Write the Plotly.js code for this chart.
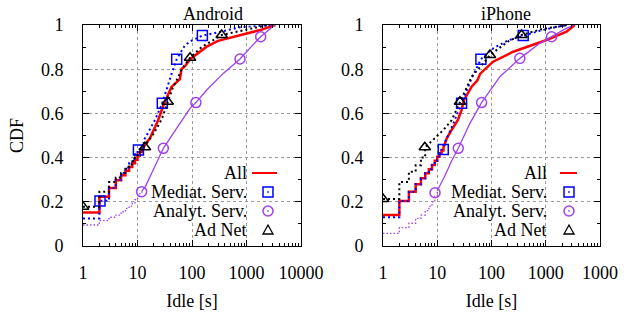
<!DOCTYPE html>
<html><head><meta charset="utf-8">
<script src="https://cdn.plot.ly/plotly-3.0.1.min.js"></script>
<style>html,body{margin:0;padding:0;background:#fff}#chart{width:629px;height:314px}</style>
</head><body><div id="chart"></div>
<script>
// ---------- data ----------
const idleSec = [1,2,3,4,5,6,7,8,9,10,11,12,13];
const xTickVals = [1,10,100,1000,10000];
const xTickTextLeft = ['1','10','100','1000','10000'];
const xTickTextRight = ['1','10','100','1000','1000'];
const yTickVals = [0,0.2,0.4,0.6,0.8,1];
const yTickText = ['0','0.2','0.4','0.6','0.8','1'];
const seriesNames = ['All','Mediat. Serv.','Analyt. Serv.','Ad Net'];
const panelTitles = ['Android','iPhone'];

// Android
const andAllStepY = [0.152,0.223,0.262,0.298,0.32,0.34,0.358,0.374,0.39,0.41,0.425,0.44,0.452];
const andAllX = [16.9,24,30,42,52,60,64,75,92,130,186,300,573,1000,1770,3400];
const andAllY = [0.487,0.57,0.638,0.72,0.74,0.755,0.8,0.815,0.845,0.875,0.902,0.928,0.947,0.962,0.977,1.0];

const andMedStepY = [0.125,0.205,0.262,0.30,0.33,0.355,0.375,0.395,0.415,0.435,0.45,0.465,0.478];
const andMedX = [13.7,20.9,28.5,42.4,52.4,74.5,100,155,246,760,2040,3000];
const andMedY = [0.487,0.57,0.646,0.781,0.845,0.909,0.93,0.952,0.962,0.99,0.997,1.0];
const andMedMarkX = [2.05,10.4,28.5,52.4,155];
const andMedMarkY = [0.204,0.434,0.646,0.845,0.952];

const andAnaStepY = [0.095,0.115,0.13,0.14,0.155,0.17,0.18,0.195,0.21,0.225,0.237,0.248];
const andAnaX = [14,18.2,24,29.8,60,92,118,186,375,760,1200,1820,3300];
const andAnaY = [0.27,0.329,0.39,0.442,0.555,0.623,0.649,0.706,0.781,0.846,0.9,0.947,1.0];
const andAnaMarkX = [11.9,29.8,118,760,1820];
const andAnaMarkY = [0.246,0.442,0.649,0.846,0.947];

const andAdStepY = [0.178,0.245,0.29,0.31,0.33,0.35,0.37,0.385,0.40,0.415,0.425,0.437,0.447];
const andAdX = [20,28,35.8,45,55,65,92,150,351,1000,2500];
const andAdY = [0.51,0.575,0.653,0.72,0.76,0.8,0.852,0.9,0.955,0.98,1.0];
const andAdMarkX = [1,13.7,35.8,92,351];
const andAdMarkY = [0.178,0.447,0.653,0.852,0.955];

// iPhone
const iphAllStepY = [0.14,0.204,0.246,0.279,0.306,0.329,0.347,0.367,0.386,0.404,0.418,0.432,0.445];
const iphAllX = [15,18.4,24,28,31,43,55,62,87,107,251,1035,2415,3430];
const iphAllY = [0.487,0.525,0.57,0.615,0.66,0.721,0.75,0.78,0.811,0.834,0.879,0.932,0.97,1.0];

const iphMedStepY = [0.13,0.204,0.246,0.279,0.306,0.329,0.347,0.367,0.386,0.404,0.42,0.437];
const iphMedX = [18,28.1,43,63.8,100,200,384,800,1500,2500];
const iphMedY = [0.53,0.646,0.759,0.845,0.89,0.93,0.952,0.975,0.99,1.0];
const iphMedMarkX = [12.9,28.1,63.8,384];
const iphMedMarkY = [0.437,0.646,0.845,0.952];

const iphAnaStepY = [0.057,0.083,0.103,0.125,0.14,0.16,0.18,0.20,0.225,0.25];
const iphAnaX = [14,18,24.4,40,65.6,143,200,333,778,1280,2200,3300];
const iphAnaY = [0.32,0.38,0.442,0.555,0.649,0.766,0.80,0.849,0.917,0.947,0.98,1.0];
const iphAnaMarkX = [9.1,24.4,65.6,333,1280];
const iphAnaMarkY = [0.241,0.442,0.649,0.849,0.947];

const iphAdStepY = [0.213,0.29,0.336,0.365,0.40,0.447];
const iphAdX = [9.1,13,18.5,26.2,43,75,93.5,200,358,800,2500];
const iphAdY = [0.487,0.525,0.57,0.653,0.766,0.834,0.864,0.925,0.955,0.98,1.0];
const iphAdMarkX = [1,5.9,26.2,93.5,358];
const iphAdMarkY = [0.213,0.447,0.653,0.864,0.955];

// ---------- build ----------
function steps(stepY){
  const X=[],Y=[];
  for(let i=0;i<stepY.length;i++){
    X.push(idleSec[i]); Y.push(stepY[i]);
    if(i+1<stepY.length){X.push(idleSec[i+1]); Y.push(stepY[i]);}
  }
  return {x:X, y:Y};
}
const FONT='Liberation Serif, Times New Roman, serif';
const RED='#ff0000', BLUE='#0000ff', PURP='#a040f0', BLK='#000000';
const styles = [
  {color:RED, width:2.5, dash:'solid', stepDash:'solid'},
  {color:BLUE, width:2, dash:'2px,3px', stepDash:'2px,3px'},
  {color:PURP, width:1.3, dash:'solid', stepDash:'1.5px,2px'},
  {color:BLK, width:2, dash:'2px,3px', stepDash:'2px,3px'}
];
const symbols=[null,'square-open','circle-open','triangle-up-open'];

const panels = [
  {xa:'x', ya:'y', lines:[[andAllStepY,andAllX,andAllY],[andMedStepY,andMedX,andMedY],[andAnaStepY,andAnaX,andAnaY],[andAdStepY,andAdX,andAdY]],
   marks:[null,[andMedMarkX,andMedMarkY],[andAnaMarkX,andAnaMarkY],[andAdMarkX,andAdMarkY]]},
  {xa:'x2', ya:'y2', lines:[[iphAllStepY,iphAllX,iphAllY],[iphMedStepY,iphMedX,iphMedY],[iphAnaStepY,iphAnaX,iphAnaY],[iphAdStepY,iphAdX,iphAdY]],
   marks:[null,[iphMedMarkX,iphMedMarkY],[iphAnaMarkX,iphAnaMarkY],[iphAdMarkX,iphAdMarkY]]}
];
const traces=[];
panels.forEach(p=>{
  for(let s=0;s<4;s++){
    const st=steps(p.lines[s][0]);
    const sm={x:[st.x[st.x.length-1]].concat(p.lines[s][1]), y:[st.y[st.y.length-1]].concat(p.lines[s][2])};
    const w=styles[s].width, c=styles[s].color;
    if(styles[s].dash===styles[s].stepDash){
      traces.push({type:'scatter',mode:'lines',x:st.x.concat(p.lines[s][1]),y:st.y.concat(p.lines[s][2]),xaxis:p.xa,yaxis:p.ya,
        name:seriesNames[s],showlegend:false,line:{color:c,width:w,dash:styles[s].dash}});
    } else {
      traces.push({type:'scatter',mode:'lines',x:st.x,y:st.y,xaxis:p.xa,yaxis:p.ya,name:seriesNames[s],showlegend:false,
        line:{color:c,width:w,dash:styles[s].stepDash}});
      traces.push({type:'scatter',mode:'lines',x:sm.x,y:sm.y,xaxis:p.xa,yaxis:p.ya,name:seriesNames[s],showlegend:false,
        line:{color:c,width:w,dash:styles[s].dash}});
    }
    if(p.marks[s]){
      traces.push({type:'scatter',mode:'markers',x:p.marks[s][0],y:p.marks[s][1],xaxis:p.xa,yaxis:p.ya,showlegend:false,
        marker:{symbol:symbols[s],size:10,color:c,line:{width:1.5,color:c}}});
    }
  }
});

// ---------- axes ----------
const minorX=[]; for(let e=0;e<4;e++) for(let k=2;k<=9;k++) minorX.push(k*Math.pow(10,e));
function xAxis(domain, ticktext, anchor){
  return {type:'log', domain:domain, range:[0,4], anchor:anchor,
    tickmode:'array', tickvals:xTickVals, ticktext:ticktext,
    ticks:'inside', ticklen:6, tickwidth:1, tickcolor:'#000', mirror:'allticks',
    showline:true, linecolor:'#000', linewidth:1, zeroline:false,
    showgrid:true, gridcolor:'#9a9a9a', griddash:'dot', gridwidth:1,
    minor:{tickmode:'array', tickvals:minorX, ticks:'inside', ticklen:3, tickcolor:'#000', showgrid:false},
    tickfont:{family:FONT,size:18,color:'#000'}, ticklabelstandoff:10,
    title:{text:'Idle [s]', font:{family:FONT,size:18,color:'#000'}, standoff:12}};
}
function yAxis(anchor, withTitle){
  const a={range:[0,1], anchor:anchor, tickmode:'array', tickvals:yTickVals, ticktext:yTickText,
    ticks:'inside', ticklen:6, tickwidth:1, tickcolor:'#000', mirror:'allticks',
    showline:true, linecolor:'#000', linewidth:1, zeroline:false,
    showgrid:true, gridcolor:'#9a9a9a', griddash:'dot', gridwidth:1,
    minor:{tickmode:'array', tickvals:[0.1,0.3,0.5,0.7,0.9], ticks:'inside', ticklen:3, tickcolor:'#000', showgrid:false},
    tickfont:{family:FONT,size:18,color:'#000'}, ticklabelstandoff:15};
  if(withTitle) a.title={text:'CDF', font:{family:FONT,size:18,color:'#000'}, standoff:12};
  return a;
}

// ---------- legend (drawn like the reference: text left, sample right) ----------
const W=517, H=221, L=83, B=246;
const px=v=>(v-L)/W, py=v=>(B-v)/H;
const shapes=[], annotations=[];
const legendCfg=[{textRight:249, lineL:252, lineR:277, sym:268, boxL:83, boxR:290},
                 {textRight:549.3, lineL:560, lineR:577, sym:569, boxL:383, boxR:588}];
const rowY=[173,192,211,230];
legendCfg.forEach(c=>{
  shapes.push({type:'rect',xref:'paper',yref:'paper',x0:px(c.boxL+1),x1:px(c.boxR),y0:py(245),y1:py(160),
    fillcolor:'#fff',line:{width:0},layer:'between'});
  seriesNames.forEach((n,i)=>{
    annotations.push({xref:'paper',yref:'paper',x:px(c.textRight),y:py(rowY[i]),xanchor:'right',yanchor:'middle',
      text:n,showarrow:false,font:{family:FONT,size:18,color:'#000'}});
  });
  shapes.push({type:'line',xref:'paper',yref:'paper',x0:px(c.lineL),x1:px(c.lineR),y0:py(rowY[0]),y1:py(rowY[0]),line:{color:RED,width:2}});
  const sx=px(c.sym);
  shapes.push({type:'rect',xref:'paper',yref:'paper',xsizemode:'pixel',ysizemode:'pixel',xanchor:sx,yanchor:py(rowY[1]),
    x0:-5,x1:5,y0:-5,y1:5,line:{color:BLUE,width:1.5}});
  shapes.push({type:'rect',xref:'paper',yref:'paper',xsizemode:'pixel',ysizemode:'pixel',xanchor:sx,yanchor:py(rowY[1]),
    x0:-0.8,x1:0.8,y0:-0.8,y1:0.8,fillcolor:BLUE,line:{width:0}});
  shapes.push({type:'circle',xref:'paper',yref:'paper',xsizemode:'pixel',ysizemode:'pixel',xanchor:sx,yanchor:py(rowY[2]),
    x0:-5,x1:5,y0:-5,y1:5,line:{color:PURP,width:1.5}});
  shapes.push({type:'rect',xref:'paper',yref:'paper',xsizemode:'pixel',ysizemode:'pixel',xanchor:sx,yanchor:py(rowY[2]),
    x0:-0.8,x1:0.8,y0:-0.8,y1:0.8,fillcolor:PURP,line:{width:0}});
  shapes.push({type:'path',xref:'paper',yref:'paper',xsizemode:'pixel',ysizemode:'pixel',xanchor:sx,yanchor:py(rowY[3]),
    path:'M -5,-4 L 5,-4 L 0,5 Z',line:{color:BLK,width:1.3}});
});
annotations.push({xref:'paper',yref:'paper',x:px(212.5),y:py(14),xanchor:'center',yanchor:'middle',text:panelTitles[0],showarrow:false,font:{family:FONT,size:18,color:'#000'}});
annotations.push({xref:'paper',yref:'paper',x:px(506),y:py(14),xanchor:'center',yanchor:'middle',text:panelTitles[1],showarrow:false,font:{family:FONT,size:18,color:'#000'}});

const layout={width:629,height:314,margin:{l:83,r:29,t:25,b:68},paper_bgcolor:'#fff',plot_bgcolor:'#fff',
  showlegend:false,
  xaxis:xAxis([0,218/517],xTickTextLeft,'y'),
  xaxis2:xAxis([300/517,1],xTickTextRight,'y2'),
  yaxis:yAxis('x',true), yaxis2:yAxis('x2',false),
  shapes:shapes, annotations:annotations, font:{family:FONT}};
Plotly.newPlot('chart',traces,layout,{staticPlot:true,displayModeBar:false});
</script></body></html>
